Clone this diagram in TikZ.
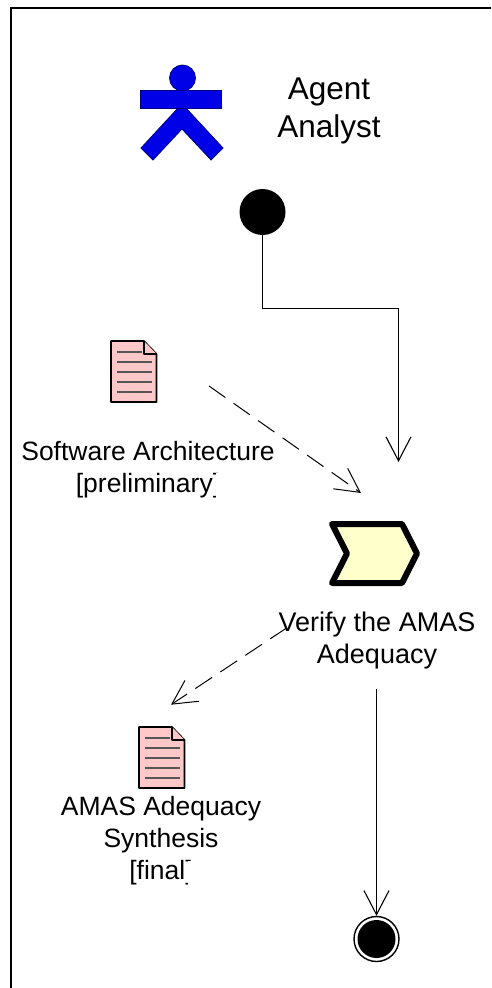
\documentclass[tikz,border=0pt]{standalone}
\usepackage{fontspec}
\setmainfont{Liberation Sans}
\usetikzlibrary{arrows.meta}
\definecolor{actorblue}{HTML}{0000E6}
\definecolor{actoredge}{HTML}{000080}
\definecolor{docpink}{HTML}{FFC8C8}
\definecolor{docline}{HTML}{555555}
\definecolor{actyellow}{HTML}{FFFFCC}
\tikzset{
  x=1pt,y=-1pt,
  frameline/.style={draw=black,line width=2pt},
  bodyshape/.style={fill=actorblue,draw=actoredge,line width=.8pt,line join=miter},
  docshape/.style={fill=docpink,draw=black,line width=1.6pt,line join=round},
  docrule/.style={draw=docline,line width=1.1pt},
  flow/.style={draw=black,line width=1.1pt,-{Straight Barb[length=24pt,width=25pt,line width=1.1pt]}},
  objflow/.style={draw=black,line width=1pt,dash pattern=on 20pt off 10pt,-{Straight Barb[length=24pt,width=25pt,line width=1pt,sep=0pt]}},
  label26/.style={inner sep=0pt,align=center,font=\fontsize{26.5}{32}\selectfont},
  label27/.style={inner sep=0pt,align=center,font=\fontsize{27}{32}\selectfont},
  label31/.style={inner sep=0pt,align=center,font=\fontsize{31.5}{38}\selectfont},
  startdot/.style={circle,fill=black,draw=none,minimum size=46pt,inner sep=0pt},
}
\newcommand{\docicon}[3]{%
  \begin{scope}[shift={(#1,#2)}]
    \coordinate (#3) at (22.5,30.5);
    \draw[docshape] (0,0) -- (33,0) -- (45.5,13) -- (45.5,61) -- (0,61) -- cycle;
    \draw[docshape] (33,0) -- (33,13) -- (45.5,13);
    \draw[docrule] (5.5,11) -- (31,11);
    \foreach \yy in {21,31,41,51} \draw[docrule] (5.5,\yy) -- (40.5,\yy);
  \end{scope}}
\begin{document}
\begin{tikzpicture}
\useasboundingbox (0,0) rectangle (491,988);
% frame
\coordinate (frameTR) at (491,8);
\coordinate (frameTL) at (11,8);
\coordinate (frameBL) at (11,988);
\draw[frameline] (frameTR) -- (frameTL) -- (frameBL);
% actor
\draw[bodyshape] (178,108) -- (141,148) -- (153,160) -- (182,129) -- (211,160) -- (223,148) -- (186,108) -- cycle;
\draw[bodyshape] (182.5,78) circle (13);
\draw[bodyshape] (140.5,90) rectangle (221.5,108);
% actor label
\begin{scope}
  \clip (270,60) rectangle (380.3,150);
  \node[label31] (agentlabel) at (329,111) {Agent\\Analyst};
\end{scope}
% start and flow to activity
\node[startdot] (start) at (262.5,212) {};
\coordinate (bend) at (398.5,308.5);
\coordinate (tipA) at (398.5,462);
\draw[flow] (start.south) |- (bend) -- (tipA);
% input document
\docicon{111}{341}{docA}
\begin{scope}
  \clip (15,430) -- (274,430) -- (274,472) -- (215.5,472) -- (215.5,508) -- (15,508) -- cycle;
  \node[label26] (docAlabel) at (148,470) {Software Architecture\\{}[preliminary]};
\end{scope}
\coordinate (fromDocA) at (209,386);
\coordinate (tipB) at (361,493);
\draw[objflow] (fromDocA) -- (tipB);
% activity
\coordinate (act) at (372,553.5);
\draw[fill=actyellow,draw=black,line width=6pt,line join=round]
  (332,524) -- (402,524) -- (417,553.5) -- (402,583) -- (332,583) -- (347,553.5) -- cycle;
% output dashed flow (under the label)
\coordinate (fromAct) at (287,627.7);
\coordinate (tipC) at (171,704.7);
\draw[objflow] (fromAct) -- (tipC);
\node[label27] (actlabel) at (377,641) {Verify the AMAS\\Adequacy};
% output document
\docicon{139}{727}{docB}
\begin{scope}
  \clip (40,790) -- (261,790) -- (261,828) -- (225,828) -- (225,860) -- (187,860) -- (187,893) -- (40,893) -- cycle;
  \node[label26] (docBlabel) at (161,841) {AMAS Adequacy\\Synthesis\\{}[final]};
\end{scope}
% final
\node[circle,draw=black,fill=white,line width=1.4pt,minimum size=45pt,inner sep=0pt] (finalouter) at (376.5,939) {};
\node[circle,fill=black,minimum size=38pt,inner sep=0pt] (finalinner) at (376.5,939) {};
\coordinate (fromLabel) at (376.5,689);
\draw[flow] (fromLabel) -- (finalouter.north);
\end{tikzpicture}
\end{document}
